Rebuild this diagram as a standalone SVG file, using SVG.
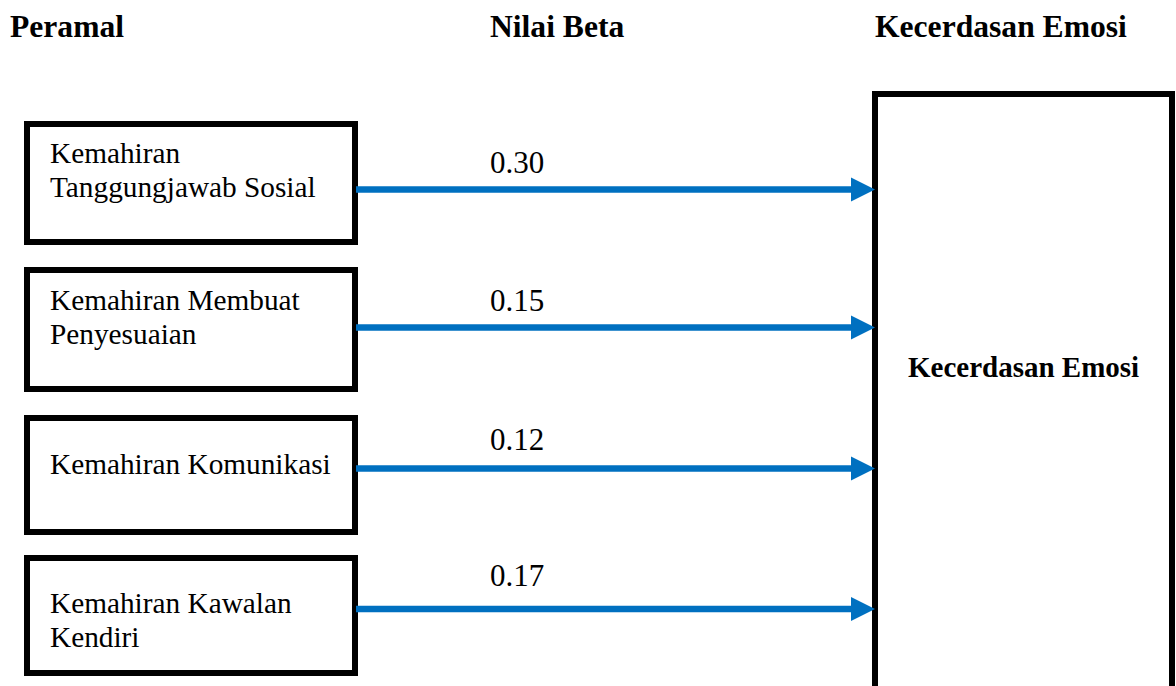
<svg xmlns="http://www.w3.org/2000/svg" width="1176" height="686" viewBox="0 0 1176 686">
  <style>
    .box { fill: #ffffff; stroke: #000000; stroke-width: 6; }
    .lbl { font-family: "Liberation Serif", "DejaVu Serif", serif; font-size: 29.3px; fill: #000000; }
    .num { font-family: "Liberation Serif", "DejaVu Serif", serif; font-size: 31px; fill: #000000; }
    .head { font-family: "Liberation Serif", "DejaVu Serif", serif; font-size: 31.6px; font-weight: bold; fill: #000000; }
    .target { font-family: "Liberation Serif", "DejaVu Serif", serif; font-size: 29px; font-weight: bold; fill: #000000; }
    .link { stroke: #0070C0; stroke-width: 6.5; fill: none; marker-end: url(#head); }
  </style>
  <defs>
    <marker id="head" markerUnits="userSpaceOnUse" markerWidth="24" markerHeight="24" refX="0" refY="12" orient="auto" overflow="visible">
      <path d="M0,0 L24,12 L0,24 Z" fill="#0070C0"/>
    </marker>
  </defs>
  <rect width="1176" height="686" fill="#ffffff"/>

  <!-- column headings -->
  <g id="headings">
    <text class="head" x="10" y="37">Peramal</text>
    <text class="head" x="490" y="37">Nilai Beta</text>
    <text class="head" x="875" y="37">Kecerdasan Emosi</text>
  </g>

  <!-- predictor nodes -->
  <g id="node-tanggungjawab">
    <rect class="box" x="27" y="124" width="328" height="118"/>
    <text class="lbl" x="50" y="163">Kemahiran</text>
    <text class="lbl" x="50" y="197">Tanggungjawab Sosial</text>
  </g>
  <g id="node-penyesuaian">
    <rect class="box" x="27" y="270" width="328" height="119"/>
    <text class="lbl" x="50" y="310">Kemahiran Membuat</text>
    <text class="lbl" x="50" y="344">Penyesuaian</text>
  </g>
  <g id="node-komunikasi">
    <rect class="box" x="27" y="418" width="328" height="114"/>
    <text class="lbl" x="50" y="474">Kemahiran Komunikasi</text>
  </g>
  <g id="node-kawalan">
    <rect class="box" x="27" y="558" width="328" height="115"/>
    <text class="lbl" x="50" y="613">Kemahiran Kawalan</text>
    <text class="lbl" x="50" y="647">Kendiri</text>
  </g>

  <!-- outcome node -->
  <g id="node-kecerdasan">
    <rect class="box" x="875" y="94" width="297" height="700"/>
    <text class="target" x="908" y="377">Kecerdasan Emosi</text>
  </g>

  <!-- beta-weighted paths -->
  <g id="connectors">
    <line class="link" x1="356" y1="189.5" x2="851" y2="189.5"/>
    <line class="link" x1="356" y1="327.5" x2="851" y2="327.5"/>
    <line class="link" x1="356" y1="468.5" x2="851" y2="468.5"/>
    <line class="link" x1="356" y1="609" x2="851" y2="609"/>
    <text class="num" x="490" y="173">0.30</text>
    <text class="num" x="490" y="311">0.15</text>
    <text class="num" x="490" y="450">0.12</text>
    <text class="num" x="490" y="586">0.17</text>
  </g>
</svg>
